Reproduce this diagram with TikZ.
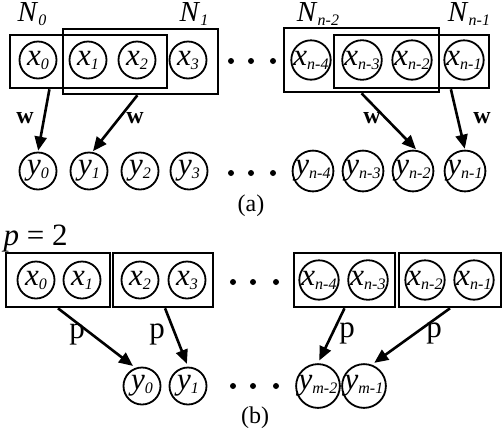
\documentclass[tikz,border=0pt]{standalone}
\usepackage{fontspec}
\setmainfont{Liberation Serif}
\usetikzlibrary{arrows.meta,calc}
\newcommand{\vsub}[2]{\textit{#1}\raisebox{-4pt}{\fontsize{16}{16}\selectfont\textit{#2}}}

\begin{document}
\begin{tikzpicture}[x=1pt, y=-1pt,
  cell/.style={circle, draw, line width=1.8pt, minimum size=37pt, inner sep=0pt, font=\fontsize{31}{31}\selectfont},
  win/.style={draw, line width=2.6pt, inner sep=0pt},
  dot/.style={circle, fill, inner sep=0pt, minimum size=6pt},
  link/.style={-{Triangle[length=14pt,width=12pt]}, line width=2.6pt, shorten >=1pt},
  wlab/.style={font=\fontsize{24}{24}\selectfont\bfseries},
  plab/.style={font=\fontsize{31}{31}\selectfont},
  nlab/.style={font=\fontsize{29}{29}\selectfont},
  sublab/.style={font=\fontsize{24}{24}\selectfont}]
\useasboundingbox (0,0) rectangle (504,432);

% (a)
\node[cell] (X0) at (38, 60) {\vsub{x}{0}};
\node[cell] (X1) at (88, 60) {\vsub{x}{1}};
\node[cell] (X2) at (137, 60) {\vsub{x}{2}};
\node[cell] (X3) at (188, 60) {\vsub{x}{3}};
\node[cell] (X4) at (311, 60) {\vsub{x}{n-4}};
\node[cell] (X5) at (362, 60) {\vsub{x}{n-3}};
\node[cell] (X6) at (412, 60) {\vsub{x}{n-2}};
\node[cell] (X7) at (464, 60) {\vsub{x}{n-1}};

\node[cell] (Y0) at (38, 171) {\vsub{y}{0}};
\node[cell] (Y1) at (89, 171) {\vsub{y}{1}};
\node[cell] (Y2) at (140, 171) {\vsub{y}{2}};
\node[cell] (Y3) at (189, 171) {\vsub{y}{3}};
\node[cell] (Y4) at (313, 171) {\vsub{y}{n-4}};
\node[cell] (Y5) at (363, 171) {\vsub{y}{n-3}};
\node[cell] (Y6) at (413, 171) {\vsub{y}{n-2}};
\node[cell] (Y7) at (465, 171) {\vsub{y}{n-1}};

\foreach \i [count=\k] in {231, 251, 273} {
  \node[dot] (DX\k) at (\i, 61) {};
  \node[dot] (DY\k) at (\i, 173) {};
}

\node[win, minimum width=157pt, minimum height=53pt] (N0) at (88.5, 61.5) {};
\node[win, minimum width=155pt, minimum height=65pt] (N1) at (140.5, 61.5) {};
\node[win, minimum width=155pt, minimum height=64pt] (N2) at (361.5, 60) {};
\node[win, minimum width=155pt, minimum height=53pt] (N3) at (411.5, 61.5) {};

\node[nlab] (L0) at (32, 14) {\vsub{N}{0}};
\node[nlab] (L1) at (194, 14) {\vsub{N}{1}};
\node[nlab] (L2) at (318, 14) {\vsub{N}{n-2}};
\node[nlab] (L3) at (469, 14) {\vsub{N}{n-1}};

\draw[link] ($(N0.south west)!0.255!(N0.south east)$) to (Y0.north);
\draw[link] ($(N1.south west)!0.48!(N1.south east)$) to (Y1.80);
\draw[link] (N2.south) to (Y6.80);
\draw[link] ($(N3.south west)!0.75!(N3.south east)$) to (Y7.north);

\node[wlab] (W0) at (25, 118) {w};
\node[wlab] (W1) at (135, 118) {w};
\node[wlab] (W2) at (372, 118) {w};
\node[wlab] (W3) at (482, 118) {w};

\node[sublab] (CA) at (251, 206) {(a)};

% (b)
\node[plab, anchor=west] (P) at (0, 239) {\textit{p} = 2};

\node[cell] (U0) at (36, 280) {\vsub{x}{0}};
\node[cell] (U1) at (82, 280) {\vsub{x}{1}};
\node[cell] (U2) at (140, 280) {\vsub{x}{2}};
\node[cell] (U3) at (187, 280) {\vsub{x}{3}};
\node[cell] (U4) at (319, 280) {\vsub{x}{n-4}};
\node[cell] (U5) at (368, 280) {\vsub{x}{n-3}};
\node[cell] (U6) at (425, 280) {\vsub{x}{n-2}};
\node[cell] (U7) at (474, 280) {\vsub{x}{n-1}};

\node[cell] (V0) at (142, 386) {\vsub{y}{0}};
\node[cell] (V1) at (188, 386) {\vsub{y}{1}};
\node[cell] (V2) at (318, 386) {\vsub{y}{m-2}};
\node[cell] (V3) at (364, 386) {\vsub{y}{m-1}};

\foreach \i [count=\k] in {233, 253, 276} {
  \node[dot] (DU\k) at (\i, 282) {};
  \node[dot] (DV\k) at (\i, 386) {};
}

\node[win, minimum width=104pt, minimum height=54pt] (B0) at (58, 280) {};
\node[win, minimum width=100pt, minimum height=54pt] (B1) at (163, 280) {};
\node[win, minimum width=101pt, minimum height=54pt] (B2) at (344.5, 280) {};
\node[win, minimum width=102pt, minimum height=54pt] (B3) at (450, 280) {};

\draw[link, shorten >=3pt] (B0.south) to (V0.110);
\draw[link, shorten >=3pt] ($(B1.south west)!0.52!(B1.south east)$) to (V1.north);
\draw[link, shorten >=3pt] (B2.south) to (V2.north);
\draw[link, shorten >=3pt] (B3.south) to (V3.70);

\node[plab] (Q0) at (77, 334) {p};
\node[plab] (Q1) at (157, 334) {p};
\node[plab] (Q2) at (347, 333) {p};
\node[plab] (Q3) at (434, 333) {p};

\node[sublab] (CB) at (255, 418) {(b)};
\end{tikzpicture}
\end{document}
